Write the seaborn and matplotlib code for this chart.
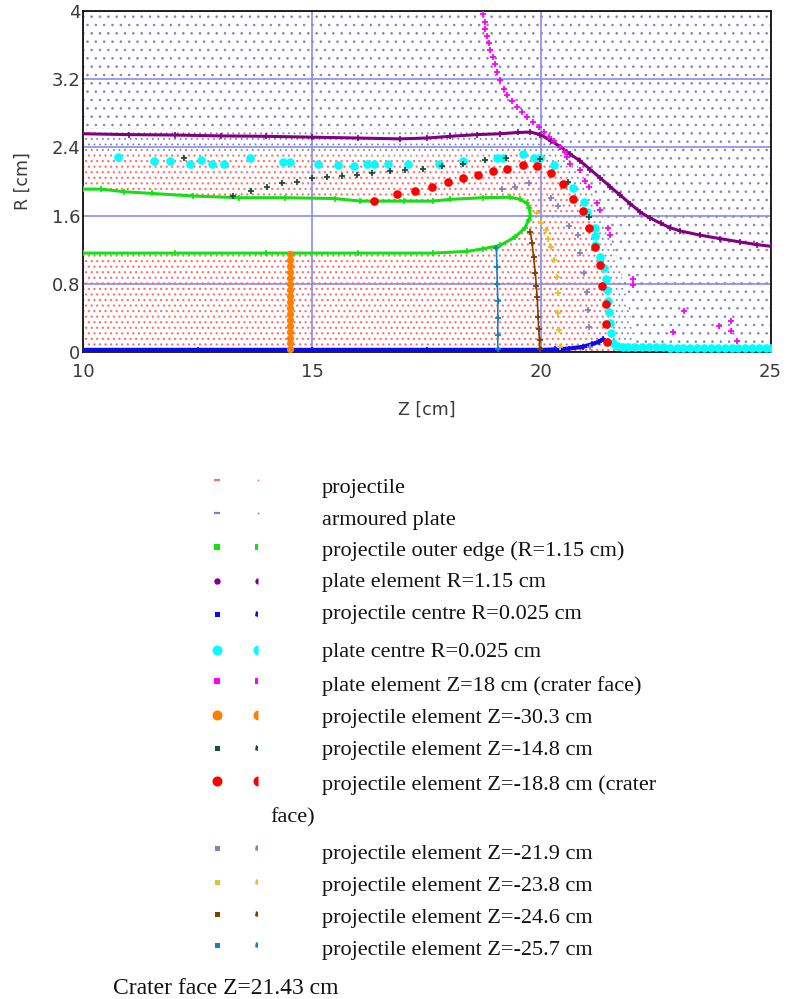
import numpy as np
import matplotlib
matplotlib.use("Agg")
import matplotlib.pyplot as plt
import seaborn as sns
from matplotlib.patches import Polygon
from matplotlib.lines import Line2D

# ---------------- data (Z [cm], R [cm]) ----------------
green_z = [10.0, 10.4, 10.9, 11.5, 12.4, 13.4, 14.4, 15.5, 16.05, 17.0, 17.64, 18.0, 18.73, 19.32,
           19.54, 19.68, 19.74, 19.76, 19.72, 19.65, 19.43, 19.1, 18.73, 18.38, 17.64, 16.0, 14.0, 12.0, 10.0]
green_r = [1.91, 1.91, 1.88, 1.86, 1.83, 1.81, 1.81, 1.80, 1.77, 1.77, 1.77, 1.79, 1.81, 1.815,
           1.79, 1.745, 1.69, 1.59, 1.55, 1.46, 1.35, 1.25, 1.21, 1.18, 1.16, 1.16, 1.16, 1.16, 1.16]

purple_z = [10.0, 11.0, 12.0, 13.0, 14.0, 15.0, 16.0, 16.92, 17.5, 18.01, 18.6, 19.1, 19.5, 19.76,
            19.98, 20.2, 20.41, 20.63, 20.85, 21.07, 21.29, 21.5, 21.72, 21.94, 22.16, 22.38, 22.6,
            22.8, 23.03, 23.47, 23.9, 24.34, 24.7, 25.0]
purple_r = [2.56, 2.55, 2.545, 2.535, 2.53, 2.52, 2.51, 2.50, 2.51, 2.53, 2.55, 2.56, 2.575, 2.58,
            2.55, 2.48, 2.41, 2.32, 2.24, 2.14, 2.04, 1.94, 1.84, 1.74, 1.64, 1.57, 1.51,
            1.46, 1.42, 1.37, 1.33, 1.29, 1.26, 1.24]

blue_z = [10.0, 12.5, 15.0, 17.5, 20.0, 20.3, 20.6, 20.9, 21.1, 21.25, 21.35]
blue_r = [0.025, 0.025, 0.025, 0.025, 0.025, 0.03, 0.04, 0.06, 0.09, 0.12, 0.15]

cyan_z = [10.76, 11.55, 11.90, 12.34, 12.58, 12.82, 13.08, 13.65, 14.37, 14.52, 15.13, 15.57, 15.92,
          16.20, 16.35, 16.66, 17.10, 17.77, 18.30, 19.04, 19.17, 19.59, 19.83, 19.98, 20.28, 20.70,
          20.92, 21.00, 21.16, 21.17, 21.18, 21.27, 21.36, 21.40, 21.43, 21.46, 21.48, 21.50, 21.52,
          21.56, 21.65, 21.78, 21.90, 22.05, 22.20, 22.35, 22.50, 22.65, 22.80, 22.95, 23.10, 23.25,
          23.40, 23.55, 23.70, 23.85, 24.00, 24.15, 24.30, 24.45, 24.60, 24.75, 24.90, 25.0]
cyan_r = [2.29, 2.24, 2.24, 2.21, 2.25, 2.21, 2.20, 2.27, 2.23, 2.225, 2.21, 2.19, 2.18,
          2.20, 2.20, 2.20, 2.21, 2.20, 2.24, 2.27, 2.27, 2.32, 2.27, 2.27, 2.19, 1.92,
          1.76, 1.64, 1.46, 1.36, 1.25, 1.12, 0.99, 0.86, 0.73, 0.60, 0.47, 0.34, 0.22,
          0.10, 0.07, 0.06, 0.055, 0.055, 0.055, 0.055, 0.055, 0.055, 0.05, 0.05, 0.05, 0.05,
          0.05, 0.05, 0.05, 0.05, 0.05, 0.05, 0.05, 0.05, 0.05, 0.05, 0.05, 0.05]

magenta_z = [18.73, 18.76, 18.78, 18.82, 18.85, 18.89, 18.94, 18.98, 19.03, 19.09, 19.18, 19.26,
             19.36, 19.47, 19.58, 19.69, 19.82, 19.94, 20.05, 20.16, 20.27, 20.40, 20.52, 20.56,
             20.63, 20.85, 20.96, 21.03, 21.22, 21.27, 21.46, 21.49, 22.01, 21.99, 23.12, 22.88,
             23.87, 24.13, 24.13, 24.26]
magenta_r = [3.97, 3.87, 3.79, 3.71, 3.62, 3.54, 3.46, 3.38, 3.28, 3.19, 3.09, 3.01,
             2.95, 2.87, 2.81, 2.76, 2.70, 2.64, 2.58, 2.52, 2.47, 2.40, 2.35, 2.29,
             2.21, 2.13, 2.01, 1.94, 1.75, 1.66, 1.45, 1.37, 0.86, 0.79, 0.48, 0.23,
             0.30, 0.36, 0.25, 0.13]

orange_z = [14.51] * 17
orange_r = [0.03, 0.10, 0.17, 0.24, 0.31, 0.38, 0.45, 0.52, 0.59, 0.66, 0.73, 0.80, 0.87, 0.94,
            1.01, 1.08, 1.15]

dkgreen_z = [12.21, 13.28, 13.67, 14.02, 14.34, 14.67, 15.00, 15.33, 15.66, 15.98, 16.31, 16.70,
             17.03, 17.42, 17.84, 18.30, 18.78, 19.24, 19.96, 20.59, 21.03]
dkgreen_r = [2.27, 1.83, 1.89, 1.94, 1.98, 2.00, 2.04, 2.05, 2.06, 2.08, 2.10, 2.12,
             2.14, 2.15, 2.18, 2.21, 2.25, 2.28, 2.26, 2.00, 1.58]

red_z = [16.35, 16.86, 17.25, 17.62, 17.97, 18.30, 18.62, 18.95, 19.26, 19.61, 19.91, 20.22,
         20.48, 20.70, 20.90, 21.03, 21.18, 21.27, 21.33, 21.40, 21.42, 21.44]
red_r = [1.77, 1.85, 1.89, 1.94, 1.99, 2.04, 2.08, 2.12, 2.15, 2.19, 2.18, 2.10,
         1.97, 1.80, 1.65, 1.45, 1.23, 1.02, 0.78, 0.56, 0.33, 0.12]

lav_z = [19.15, 19.43, 19.74, 20.20, 20.37, 20.61, 20.79, 20.85, 20.94, 21.00, 21.02, 21.05, 21.07]
lav_r = [1.91, 1.94, 1.98, 1.81, 1.71, 1.48, 1.37, 1.16, 0.93, 0.70, 0.49, 0.29, 0.06]

yellow_z = [19.91, 20.00, 20.11, 20.15, 20.22, 20.28, 20.35, 20.37, 20.37, 20.39, 20.41]
yellow_r = [1.63, 1.51, 1.43, 1.32, 1.23, 1.08, 0.88, 0.69, 0.46, 0.26, 0.06]

brown_z = [19.76, 19.80, 19.83, 19.87, 19.89, 19.91, 19.93, 19.94, 19.96, 19.96]
brown_r = [1.41, 1.28, 1.11, 0.93, 0.78, 0.64, 0.41, 0.27, 0.14, 0.03]

steel_z = [19.02, 19.03, 19.04, 19.05, 19.05, 19.05, 19.05]
steel_r = [1.22, 1.00, 0.80, 0.60, 0.40, 0.20, 0.03]

# mesh region outlines (projectile body, compressed plate zone)
proj_z = [10.0, 10.0, 12.0, 14.0, 16.0, 18.0, 19.0, 19.6, 20.0, 20.3, 20.7, 20.92, 21.05, 21.16,
          21.24, 21.36, 21.43, 21.48, 21.52, 21.56, 21.56]
proj_r = [0.0, 2.34, 2.32, 2.32, 2.31, 2.30, 2.31, 2.33, 2.30, 2.20, 1.95, 1.76, 1.60, 1.46,
          1.25, 0.99, 0.73, 0.47, 0.22, 0.08, 0.0]
band_z = [10.0, 10.0, 19.6, 20.1, 20.5, 20.9, 21.3, 21.6, 21.8, 21.95, 22.05, 22.1]
band_r = [0.0, 2.62, 2.62, 2.58, 2.40, 2.10, 1.65, 1.20, 0.80, 0.40, 0.15, 0.0]

x_ticks = [10, 15, 20, 25]
y_ticks = [0, 0.8, 1.6, 2.4, 3.2, 4]
y_ticklabels = ["0", "0.8", "1.6", "2.4", "3.2", "4"]

legend_labels = ["projectile", "armoured plate", "projectile outer edge (R=1.15 cm)",
                 "plate element R=1.15 cm", "projectile centre R=0.025 cm",
                 "plate centre R=0.025 cm", "plate element Z=18 cm (crater face)",
                 "projectile element Z=-30.3 cm", "projectile element Z=-14.8 cm",
                 "projectile element Z=-18.8 cm (crater", "projectile element Z=-21.9 cm",
                 "projectile element Z=-23.8 cm", "projectile element Z=-24.6 cm",
                 "projectile element Z=-25.7 cm"]
footer = "Crater face Z=21.43 cm"

# ---------------- style ----------------
C_PROJ = "#ff7070"
C_PLATE = "#8080c0"
C_GREEN = "#14e014"
C_PURPLE = "#800080"
C_BLUE = "#0a0af0"
C_CYAN = "#00ffff"
C_MAG = "#ff00ff"
C_ORANGE = "#ff8000"
C_DKG = "#174f45"
C_RED = "#ff0000"
C_LAV = "#8282c4"
C_YEL = "#e6c21e"
C_BRN = "#7f4000"
C_STL = "#1580c0"

sns.set_style("white")
plt.rcParams["font.family"] = ["DejaVu Sans"]

W, H = 789, 999
fig = plt.figure(figsize=(W / 100, H / 100), dpi=100)
ax = fig.add_axes([83 / W, 1 - 352 / H, (770.5 - 83) / W, (352 - 11) / H])
ax.set_xlim(10, 25)
ax.set_ylim(0, 4)
ax.set_axisbelow("line")


def region(z, r, color, hatch, zo, hlw=0.6, face="white"):
    plt.rcParams["hatch.linewidth"] = hlw
    p = Polygon(np.column_stack([z, r]), closed=True, facecolor=face, edgecolor=color,
                linewidth=0, hatch=hatch, zorder=zo)
    ax.add_patch(p)


region([10, 25, 25, 10], [0, 0, 4, 4], C_PLATE, "..", 0.2, 0.6)
region(band_z, band_r, C_PLATE, "...", 0.3, 0.6)
region(proj_z, proj_r, C_PROJ, "...", 0.4, 0.85)
region(green_z, green_r, "white", None, 0.5)
plt.rcParams["hatch.linewidth"] = 0.6

ax.grid(True, color="#8a8af2", linewidth=1.2)


def chain(z, r, color, lw, ms, mew, zo, ls="-", marker="+"):
    sns.lineplot(x=z, y=r, sort=False, estimator=None, color=color, linewidth=lw, linestyle=ls,
                 marker=marker, markersize=ms, markeredgewidth=mew, markeredgecolor=color,
                 ax=ax, zorder=zo, legend=False)


def dots(z, r, color, d, zo):
    sns.scatterplot(x=z, y=r, color=color, s=d * d, linewidth=0, marker="o", ax=ax,
                    zorder=zo, legend=False)


chain(green_z, green_r, C_GREEN, 2.2, 4.5, 1.2, 3)
chain(purple_z, purple_r, C_PURPLE, 2.2, 4.5, 1.2, 3.1)
chain(blue_z, blue_r, C_BLUE, 3.0, 4.0, 1.2, 3.2)
dots(cyan_z, cyan_r, C_CYAN, 6.2, 3.3)
chain(magenta_z, magenta_r, C_MAG, 0, 4.5, 1.3, 3.4, ls="none")
dots(orange_z, orange_r, C_ORANGE, 5.2, 3.5)
chain(dkgreen_z, dkgreen_r, C_DKG, 0, 4.0, 1.3, 3.6, ls="none")
dots(red_z, red_r, C_RED, 6.2, 3.7)
chain(lav_z, lav_r, C_LAV, 0, 4.0, 1.3, 3.8, ls="none")
chain(yellow_z, yellow_r, C_YEL, 0, 4.0, 1.3, 3.9, ls="none")
chain(brown_z, brown_r, C_BRN, 1.2, 4.0, 1.3, 4.0)
chain(steel_z, steel_r, C_STL, 1.2, 4.0, 1.3, 4.1)

ax.set_xticks(x_ticks)
ax.set_xticklabels([str(t) for t in x_ticks])
ax.set_yticks(y_ticks)
ax.set_yticklabels(y_ticklabels)
ax.tick_params(axis="both", length=0, labelsize=13, labelcolor="#3a3a3a")
ax.tick_params(axis="x", pad=8)
ax.tick_params(axis="y", pad=2)
ax.set_xlabel("Z [cm]", fontsize=12.5, color="#3a3a3a", labelpad=14)
ax.set_ylabel("R [cm]", fontsize=12.5, color="#3a3a3a", labelpad=14)
for side in ["left", "bottom", "top", "right"]:
    ax.spines[side].set_visible(True)
    ax.spines[side].set_color("#111111")
    ax.spines[side].set_linewidth(1.3)

# ---------------- legend below the chart ----------------
def fx(x):
    return x / W


def fy(y):
    return 1 - y / H


leg_style = [("_", 4.0, C_PROJ), ("_", 4.0, C_PLATE), ("s", 4.2, C_GREEN), ("o", 4.6, C_PURPLE),
             ("s", 3.6, C_BLUE), ("o", 7.2, C_CYAN), ("s", 4.2, C_MAG), ("o", 7.2, C_ORANGE),
             ("s", 3.6, C_DKG), ("o", 7.2, C_RED), ("s", 3.6, C_LAV), ("s", 3.6, C_YEL),
             ("s", 3.6, C_BRN), ("s", 3.6, C_STL)]
marker_y = [480, 513, 547, 581, 614, 650, 681, 715, 748, 781, 848, 882, 914, 945]
text_y = [488, 520, 551, 583, 615, 652, 686, 718, 750, 785, 855, 886, 918, 951]

for (mk, ms, col), my, ty, lab in zip(leg_style, marker_y, text_y, legend_labels):
    if mk == "_":
        fig.add_artist(Line2D([fx(217)], [fy(my)], marker="_", markersize=ms, markeredgewidth=1.6,
                              color=col, linestyle="none", transform=fig.transFigure))
        fig.add_artist(Line2D([fx(258)], [fy(my)], marker="s", markersize=1.2, markeredgewidth=0,
                              color=col, linestyle="none", transform=fig.transFigure))
    else:
        fig.add_artist(Line2D([fx(217)], [fy(my)], marker=mk, markersize=ms, markeredgewidth=0,
                              color=col, linestyle="none", transform=fig.transFigure))
        fig.add_artist(Line2D([fx(258)], [fy(my)], marker=mk, markersize=ms, markeredgewidth=0,
                              color=col, fillstyle="left", markerfacecoloralt="none",
                              linestyle="none", transform=fig.transFigure))
    fig.text(fx(322), fy(ty), lab, family="Liberation Serif", fontsize=16, va="center",
             ha="left", color="#111111")

fig.text(fx(270), fy(818), "face)", family="Liberation Serif", fontsize=16, va="center",
         ha="left", color="#111111")
fig.text(fx(113), fy(988), footer, family="Liberation Serif", fontsize=17, va="center",
         ha="left", color="#111111")

fig.savefig("out.png", dpi=100)
